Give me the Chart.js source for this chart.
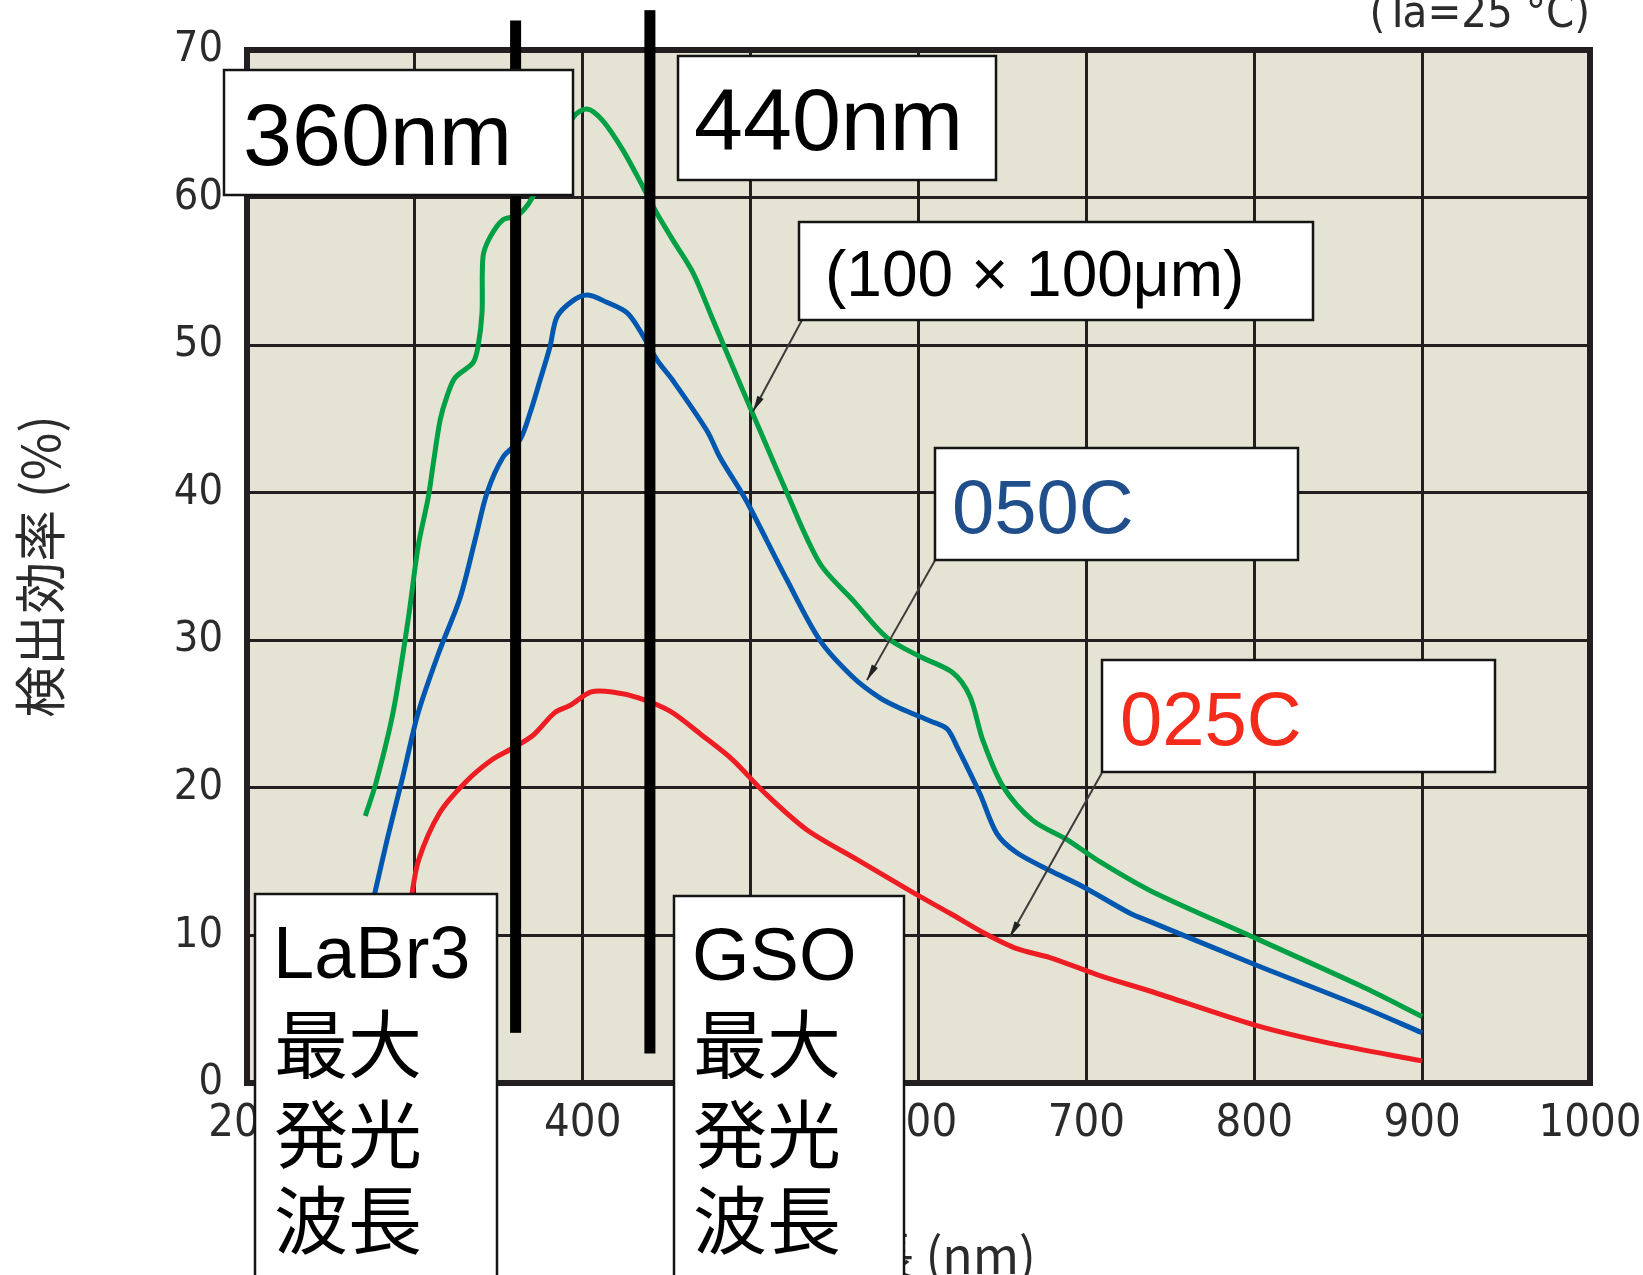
<!DOCTYPE html>
<html lang="ja">
<head>
<meta charset="utf-8">
<title>検出効率</title>
<script src="https://cdn.jsdelivr.net/npm/chart.js@4.4.1/dist/chart.umd.min.js"></script>
<style>
  html, body { margin: 0; padding: 0; background: #fff; }
  canvas { display: block; }
</style>
</head>
<body>
<canvas id="effChart" width="1643" height="1275"></canvas>
<script>
// detection efficiency (%) vs wavelength (nm), Ta = 25 °C

// 100 x 100 um cell
const nm100 = [270.5, 277, 287, 296, 302, 308, 311, 315, 319, 324, 334.6, 337.6, 340, 340.6, 344.7, 352.5, 361.4, 370,
  394, 402.5, 412, 424, 436, 444.3, 453.8, 465.7, 477.6, 489.5, 499.6, 521.6, 541.3, 561, 581, 600.8, 620.5, 630.6,
  638.4, 650.3, 668, 688.4, 708, 738.7, 801, 863, 900];
const eff100 = [18.1, 20.4, 25.1, 31.4, 36.4, 39.7, 42.0, 44.9, 46.5, 47.8, 48.8, 49.9, 52.2, 56.0, 57.3, 58.5, 58.8, 60.0,
  65.4, 66.0, 65.2, 63.2, 60.7, 58.9, 57.1, 54.9, 51.7, 48.5, 45.8, 40.0, 35.2, 32.7, 30.2, 28.9, 27.8, 26.2,
  23.2, 20.1, 17.8, 16.5, 15.0, 13.0, 9.8, 6.6, 4.5];

// 050C
const nm050 = [275, 283.5, 292.9, 302, 314.7, 327, 336.5, 343, 352.5, 362.6, 368.6, 374.5, 380.5, 384.6, 394, 403,
  414.4, 426.3, 434, 444.2, 453.7, 474, 481.7, 493.6, 499.6, 521.6, 541.3, 561, 577, 589, 607.7, 617, 622.9,
  636.6, 646.7, 658.6, 678.3, 698, 726, 738.7, 801, 863.3, 900];
const eff050 = [12.3, 16.5, 20.8, 25.1, 29.3, 32.9, 37.1, 40.0, 42.4, 43.6, 45.4, 47.6, 49.9, 51.9, 53.0, 53.4,
  52.9, 52.2, 51.0, 49.0, 47.6, 44.2, 42.4, 40.2, 39.0, 34.1, 30.0, 27.5, 26.1, 25.4, 24.5, 24.0, 22.8,
  19.6, 16.9, 15.6, 14.4, 13.3, 11.5, 10.9, 8.0, 5.2, 3.4];

// 025C
const nm025 = [297.5, 302.2, 314.7, 330.3, 345.9, 358.4, 370.8, 383.3, 392.6, 405, 417.6, 433.2, 452, 470.6, 489.3,
  508, 533, 564, 595.3, 618.7, 638.4, 658.6, 678.3, 707.5, 738.7, 801, 844.6, 900];
const eff025 = [12.3, 15.1, 18.3, 20.4, 21.9, 22.7, 23.6, 25.1, 25.6, 26.5, 26.5, 26.1, 25.2, 23.6, 21.9,
  19.7, 17.2, 15.1, 13.0, 11.5, 10.2, 9.1, 8.5, 7.3, 6.2, 3.9, 2.7, 1.5];

const xTicks = [200, 300, 400, 500, 600, 700, 800, 900, 1000];
const yTicks = [0, 10, 20, 30, 40, 50, 60, 70];

// peak emission wavelengths of LaBr3 and GSO, with the extent of each marker bar (%)
const peakNm = [360, 440];
const peakTop = [72.0, 72.7];
const peakBottom = [3.4, 2.0];

// leader lines from the labels to the curves: [nm, %] at the label end and at the arrow tip
const leaderFrom = [[530.6, 51.7], [609.8, 35.4], [709.2, 21.0]];
const leaderTo = [[501.4, 45.5], [569.3, 27.3], [654.4, 9.9]];

const NARROW = '"Liberation Sans Narrow", "Arial Narrow", "DejaVu Sans Condensed", sans-serif';
const SANS = '"Liberation Sans", Arial, sans-serif';
const CJK = '"Noto Sans CJK JP", sans-serif';

const toPoints = (xs, ys) => xs.map((x, i) => ({ x: x, y: ys[i] }));

// white label boxes drawn over the plot
const noteBoxes = [
  { x: 224, y: 70, w: 349, h: 125, color: '#000', lines: [['360nm', 243, 165, '88px ' + SANS]] },
  { x: 678, y: 56, w: 318, h: 124, color: '#000', lines: [['440nm', 694, 150, '88px ' + SANS]] },
  { x: 799, y: 222, w: 514, h: 98, color: '#000', lines: [['(100 × 100μm)', 825, 296, '64px ' + SANS]] },
  { x: 935, y: 448, w: 363, h: 112, color: '#1f4e8a', lines: [['050C', 952, 533, '76px ' + SANS]] },
  { x: 1102, y: 660, w: 393, h: 112, color: '#f42a1a', lines: [['025C', 1120, 745, '76px ' + SANS]] },
  { x: 255, y: 894, w: 242, h: 420, color: '#000', lines: [
    ['LaBr3', 273, 978, '74px ' + SANS], ['最大', 274, 1072, '74px ' + CJK],
    ['発光', 274, 1162, '74px ' + CJK], ['波長', 274, 1248, '74px ' + CJK]] },
  { x: 674, y: 896, w: 230, h: 420, color: '#000', lines: [
    ['GSO', 692, 980, '74px ' + SANS], ['最大', 693, 1072, '74px ' + CJK],
    ['発光', 693, 1162, '74px ' + CJK], ['波長', 693, 1248, '74px ' + CJK]] }
];

const overlay = {
  id: 'overlay',
  beforeDraw(chart) {
    const { ctx, chartArea: a } = chart;
    ctx.save();
    ctx.fillStyle = '#e5e3d3';
    ctx.fillRect(a.left, a.top, a.right - a.left, a.bottom - a.top);
    ctx.restore();
  },
  beforeDatasetsDraw(chart) {
    const { ctx, chartArea: a } = chart;
    ctx.save();
    ctx.strokeStyle = '#231f20';
    ctx.lineWidth = 6;
    ctx.strokeRect(a.left, a.top, a.right - a.left, a.bottom - a.top);
    ctx.restore();
  },
  afterDatasetsDraw(chart) {
    const ctx = chart.ctx;
    const xs = chart.scales.x, ys = chart.scales.y;
    ctx.save();

    // x axis title, mostly hidden behind the GSO box
    ctx.fillStyle = '#2b2b2b';
    ctx.font = '50px ' + CJK;
    ctx.textAlign = 'right';
    ctx.textBaseline = 'alphabetic';
    ctx.fillText('波長 (nm)', 1036, 1274);

    // peak wavelength bars
    ctx.fillStyle = '#000';
    peakNm.forEach((v, i) => {
      const px = xs.getPixelForValue(v);
      const top = ys.getPixelForValue(peakTop[i]);
      const bottom = ys.getPixelForValue(peakBottom[i]);
      ctx.fillRect(px - 5.5, top, 11, bottom - top);
    });

    // leader lines with small arrow heads
    ctx.strokeStyle = '#3c3c3c';
    ctx.fillStyle = '#222';
    ctx.lineWidth = 2;
    leaderFrom.forEach((f, i) => {
      const x0 = xs.getPixelForValue(f[0]), y0 = ys.getPixelForValue(f[1]);
      const x1 = xs.getPixelForValue(leaderTo[i][0]), y1 = ys.getPixelForValue(leaderTo[i][1]);
      ctx.beginPath();
      ctx.moveTo(x0, y0);
      ctx.lineTo(x1, y1);
      ctx.stroke();
      const ang = Math.atan2(y1 - y0, x1 - x0);
      ctx.beginPath();
      ctx.moveTo(x1, y1);
      ctx.lineTo(x1 - 16 * Math.cos(ang) + 3.5 * Math.sin(ang), y1 - 16 * Math.sin(ang) - 3.5 * Math.cos(ang));
      ctx.lineTo(x1 - 16 * Math.cos(ang) - 3.5 * Math.sin(ang), y1 - 16 * Math.sin(ang) + 3.5 * Math.cos(ang));
      ctx.closePath();
      ctx.fill();
    });

    // label boxes
    ctx.textAlign = 'left';
    noteBoxes.forEach(b => {
      ctx.fillStyle = '#fff';
      ctx.fillRect(b.x, b.y, b.w, b.h);
      ctx.strokeStyle = '#141414';
      ctx.lineWidth = 2.5;
      ctx.strokeRect(b.x, b.y, b.w, b.h);
      ctx.fillStyle = b.color;
      b.lines.forEach(l => {
        ctx.font = l[3];
        ctx.fillText(l[0], l[1], l[2]);
      });
    });

    // measuring condition, top right
    ctx.fillStyle = '#2b2b2b';
    ctx.font = '45px ' + NARROW;
    ctx.textAlign = 'right';
    ctx.fillText('(Ta=25 °C)', chart.chartArea.right, 27);
    ctx.restore();
  }
};

new Chart(document.getElementById('effChart'), {
  type: 'line',
  data: {
    datasets: [
      { label: '025C', data: toPoints(nm025, eff025), borderColor: '#ee1d23' },
      { label: '050C', data: toPoints(nm050, eff050), borderColor: '#0057b0' },
      { label: '(100 × 100μm)', data: toPoints(nm100, eff100), borderColor: '#00a045' }
    ]
  },
  options: {
    responsive: false,
    animation: false,
    devicePixelRatio: 1,
    layout: { padding: { top: 50, right: 53, left: 0, bottom: 0 } },
    elements: {
      line: { borderWidth: 5, tension: 0.3, fill: false },
      point: { radius: 0, hoverRadius: 0 }
    },
    plugins: { legend: { display: false }, tooltip: { enabled: false } },
    scales: {
      x: {
        type: 'linear',
        min: xTicks[0],
        max: xTicks[xTicks.length - 1],
        afterBuildTicks: s => { s.ticks = xTicks.map(v => ({ value: v })); },
        afterFit: s => { s.height = 192; s.paddingLeft = 0; s.paddingRight = 0; },
        border: { display: false },
        grid: { color: '#231f20', lineWidth: 3, drawTicks: false },
        ticks: { autoSkip: false, maxRotation: 0, padding: 14, color: '#2b2b2b',
          font: { family: NARROW, size: 45 }, callback: v => String(v) }
      },
      y: {
        min: yTicks[0],
        max: yTicks[yTicks.length - 1],
        afterBuildTicks: s => { s.ticks = yTicks.map(v => ({ value: v })); },
        afterFit: s => { s.width = 247; s.paddingTop = 0; s.paddingBottom = 0; },
        border: { display: false },
        grid: { color: '#231f20', lineWidth: 3, drawTicks: false },
        ticks: { autoSkip: false, padding: 24, color: '#2b2b2b',
          font: { family: NARROW, size: 43 }, callback: v => String(v) },
        title: { display: true, text: '検出効率 (%)', color: '#2b2b2b',
          font: { family: CJK, size: 52 }, padding: { top: 9, bottom: 0 } }
      }
    }
  },
  plugins: [overlay]
});
</script>
</body>
</html>
